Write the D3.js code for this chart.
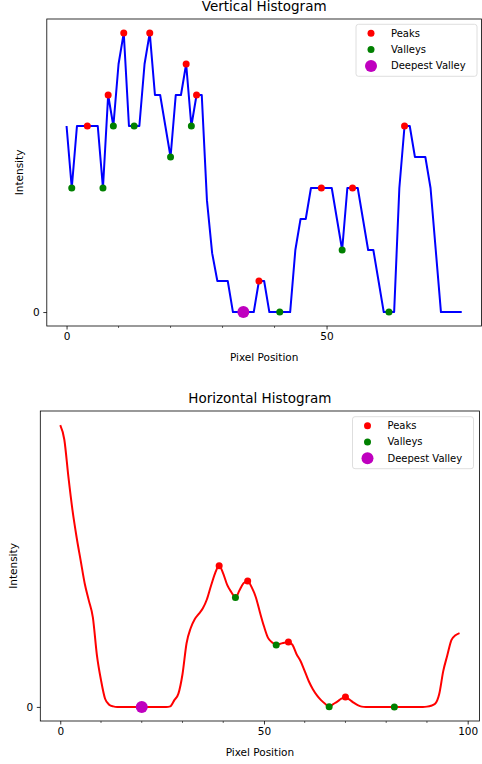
<!DOCTYPE html>
<html>
<head>
<meta charset="utf-8">
<script src="https://cdn.jsdelivr.net/npm/d3@7"></script>
<style>
    body { margin: 0; background: #fff; }
    text { font-family: "DejaVu Sans", sans-serif; fill: #000; }
</style>
</head>
<body>
<div id="chart"></div>
<script>

// ---- data ----
// vertical histogram (index 0..76)
var verticalValues = [6, 4, 6, 6, 6, 6, 6, 4, 7, 6, 8, 9, 6, 6, 6, 8, 9, 7, 7, 6,
    5, 7, 7, 8, 6, 7, 7, 3.6, 1.9, 1, 1, 1, 0, 0, 0, 0, 0, 1, 1, 0,
    0, 0, 0, 0, 2, 3, 3, 4, 4, 4, 4, 4, 3, 2, 4, 4, 4, 3, 2, 2,
    1, 0, 0, 0, 4, 6, 6, 5, 5, 5, 4, 2, 0, 0, 0, 0, 0];
var verticalPeaks = [4, 8, 11, 16, 23, 25, 37, 49, 55, 65];
var verticalValleys = [1, 7, 9, 13, 20, 24, 41, 53, 62];
var verticalDeepest = 34;
var verticalTicks = [0, 50];

// horizontal histogram (index 0..98)
var horizontalValues = [100, 94.8, 81.6, 69.8, 60.3, 52, 43.8, 37.8, 31.8, 18.3,
    9.5, 2.9, 0.8, 0.2, 0, 0, 0, 0, 0, 0,
    0, 0, 0, 0, 0, 0, 0, 0.2, 2.4, 4.7,
    11.6, 22.6, 27.9, 31.1, 33, 35, 38.2, 43, 47.4, 50.1,
    47.3, 43.2, 40.7, 38.8, 41.4, 43.9, 44.7, 42.4, 38.9, 33.6,
    28.6, 24.5, 22.9, 22, 22.4, 22.8, 23, 22, 18.7, 16.2,
    12.7, 9.1, 6.3, 4.1, 2.4, 1.1, 0.1, 1.0, 1.9, 2.9,
    3.5, 2.6, 1.5, 0.6, 0.1, 0, 0, 0, 0, 0,
    0, 0, 0, 0, 0, 0, 0, 0, 0, 0,
    0.1, 0.4, 1.1, 4.5, 12.7, 18.3, 23.7, 25.4, 26.2];
var horizontalPeaks = [39, 46, 56, 70];
var horizontalValleys = [43, 53, 66, 82];
var horizontalDeepest = 20;
var horizontalTicks = [0, 50, 100];

var legendLabels = ["Peaks", "Valleys", "Deepest Valley"];

var width = 482, height = 764;

var svg = d3.select("#chart").append("svg")
    .attr("width", width)
    .attr("height", height);

svg.append("rect").attr("width", width).attr("height", height).attr("fill", "#fff");

function drawHistogram(cfg) {
    var g = svg.append("g");
    var n = cfg.values.length - 1;
    var maxV = d3.max(cfg.values);

    // matplotlib style 5% margins
    var x = d3.scaleLinear()
        .domain([-0.05 * n, n * 1.05])
        .range([cfg.left, cfg.right]);
    var y = d3.scaleLinear()
        .domain([-0.05 * maxV, maxV * 1.05])
        .range([cfg.bottom, cfg.top]);

    // minor ticks every 10
    var minor = d3.range(10, cfg.ticks[cfg.ticks.length - 1] + 1, 10)
        .filter(function(t) { return cfg.ticks.indexOf(t) < 0 && t <= x.domain()[1]; });

    var xAxis = g.append("g")
        .attr("transform", "translate(0," + cfg.bottom + ")")
        .call(d3.axisBottom(x).tickValues(cfg.ticks).tickSize(3.5).tickPadding(3.5).tickFormat(d3.format("d")));
    xAxis.select(".domain").remove();
    xAxis.selectAll("text").attr("font-size", 10.5).attr("font-family", "DejaVu Sans");
    xAxis.selectAll("line").attr("stroke", "#000").attr("stroke-width", 0.8);

    g.append("g")
        .selectAll("line")
        .data(minor)
        .enter()
        .append("line")
        .attr("x1", function(d) { return x(d); })
        .attr("x2", function(d) { return x(d); })
        .attr("y1", cfg.bottom)
        .attr("y2", cfg.bottom + 2)
        .attr("stroke", "#000")
        .attr("stroke-width", 0.6);

    var yAxis = g.append("g")
        .attr("transform", "translate(" + cfg.left + ",0)")
        .call(d3.axisLeft(y).tickValues([0]).tickSize(3.5).tickPadding(3.5));
    yAxis.select(".domain").remove();
    yAxis.selectAll("text").attr("font-size", 10.5).attr("font-family", "DejaVu Sans");
    yAxis.selectAll("line").attr("stroke", "#000").attr("stroke-width", 0.8);

    // the line
    var line = d3.line()
        .curve(cfg.curve)
        .x(function(d, i) { return x(i); })
        .y(function(d) { return y(d); });

    g.append("path")
        .datum(cfg.values)
        .attr("d", line)
        .attr("fill", "none")
        .attr("stroke", cfg.color)
        .attr("stroke-width", 2)
        .attr("stroke-linejoin", "round");

    // markers
    g.selectAll("circle.peak")
        .data(cfg.peaks)
        .enter()
        .append("circle")
        .attr("class", "peak")
        .attr("cx", function(d) { return x(d); })
        .attr("cy", function(d) { return y(cfg.values[d]); })
        .attr("r", 3.5)
        .attr("fill", "#ff0000");

    g.selectAll("circle.valley")
        .data(cfg.valleys)
        .enter()
        .append("circle")
        .attr("class", "valley")
        .attr("cx", function(d) { return x(d); })
        .attr("cy", function(d) { return y(cfg.values[d]); })
        .attr("r", 3.5)
        .attr("fill", "#008000");

    g.append("circle")
        .attr("cx", x(cfg.deepest))
        .attr("cy", y(cfg.values[cfg.deepest]))
        .attr("r", 6)
        .attr("fill", "#bf00bf");

    // frame
    g.append("rect")
        .attr("x", cfg.left)
        .attr("y", cfg.top)
        .attr("width", cfg.right - cfg.left)
        .attr("height", cfg.bottom - cfg.top)
        .attr("fill", "none")
        .attr("stroke", "#000")
        .attr("stroke-width", 0.8);

    // labels
    g.append("text")
        .attr("x", (cfg.left + cfg.right) / 2)
        .attr("y", cfg.top - 8.5)
        .attr("text-anchor", "middle")
        .attr("font-size", 13.5)
        .text(cfg.title);

    g.append("text")
        .attr("x", (cfg.left + cfg.right) / 2)
        .attr("y", cfg.bottom + 35)
        .attr("text-anchor", "middle")
        .attr("font-size", 10.5)
        .text("Pixel Position");

    g.append("text")
        .attr("transform", "translate(" + cfg.ylabelX + "," + (cfg.top + cfg.bottom) / 2 + ") rotate(-90)")
        .attr("text-anchor", "middle")
        .attr("dy", "0.35em")
        .attr("font-size", 10.5)
        .text("Intensity");

    // legend
    var lg = g.append("g")
        .attr("transform", "translate(" + cfg.legend[0] + "," + cfg.legend[1] + ")");
    lg.append("rect")
        .attr("width", 121)
        .attr("height", 52)
        .attr("rx", 2.5)
        .attr("fill", "#fff")
        .attr("fill-opacity", 0.8)
        .attr("stroke", "#d5d5d5")
        .attr("stroke-width", 0.8);

    var legendColors = ["#ff0000", "#008000", "#bf00bf"];
    var legendR = [3.5, 3.5, 6];
    legendLabels.forEach(function(lab, i) {
        lg.append("circle")
            .attr("cx", 15)
            .attr("cy", 9 + i * 16.3)
            .attr("r", legendR[i])
            .attr("fill", legendColors[i]);
        lg.append("text")
            .attr("x", 35)
            .attr("y", 9 + i * 16.3)
            .attr("dy", "0.35em")
            .attr("font-size", 10)
            .text(lab);
    });
}

drawHistogram({
    values: verticalValues,
    peaks: verticalPeaks,
    valleys: verticalValleys,
    deepest: verticalDeepest,
    ticks: verticalTicks,
    color: "#0000ff",
    curve: d3.curveLinear,
    title: "Vertical Histogram",
    left: 46.8, right: 481.5, top: 19, bottom: 326,
    ylabelX: 19,
    legend: [356, 24.3]
});

drawHistogram({
    values: horizontalValues,
    peaks: horizontalPeaks,
    valleys: horizontalValleys,
    deepest: horizontalDeepest,
    ticks: horizontalTicks,
    color: "#ff0000",
    curve: d3.curveMonotoneX,
    title: "Horizontal Histogram",
    left: 40.3, right: 479.5, top: 411, bottom: 721,
    ylabelX: 13,
    legend: [352.5, 416.7]
});

</script>
</body>
</html>
